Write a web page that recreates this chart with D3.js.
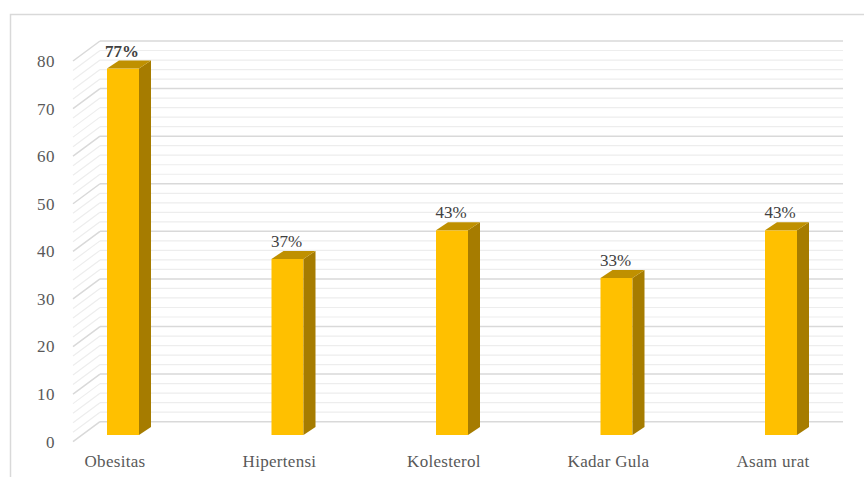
<!DOCTYPE html>
<html>
<head>
<meta charset="utf-8">
<script src="https://cdn.jsdelivr.net/npm/d3@7"></script>
<style>
  body { margin: 0; background: #fff; }
</style>
</head>
<body>
<script>
// data
var categories = ["Obesitas", "Hipertensi", "Kolesterol", "Kadar Gula", "Asam urat"];
var values = [77, 37, 43, 33, 43];
var valueLabels = ["77%", "37%", "43%", "33%", "43%"];
var tickValues = [0, 10, 20, 30, 40, 50, 60, 70, 80];

var width = 864, height = 477;
var font = "'Liberation Serif', 'Times New Roman', 'DejaVu Serif', serif";
var svg = d3.select("body").append("svg").attr("width", width).attr("height", height)
  .attr("font-family", font);

// outer border
svg.append("rect").attr("x", 10.5).attr("y", 14.5).attr("width", 900).attr("height", 500)
  .attr("fill", "#fff").attr("stroke", "#d9d9d9").attr("stroke-width", 1.5);

// back wall scale
var yBack = d3.scaleLinear().domain([0, 80]).range([421.7, 41]);
var depthX = 27, depthY = 20;   // front plane offset
var wallLeft = 100, wallRight = 843;

// gridlines every 2, major every 10
var grid = d3.range(0, 81, 2);
var g = svg.append("g");
g.selectAll("line.back").data(grid).enter().append("line")
  .attr("x1", wallLeft).attr("x2", wallRight)
  .attr("y1", function (d) { return yBack(d); })
  .attr("y2", function (d) { return yBack(d); })
  .attr("stroke", function (d) { return d % 10 === 0 ? "#d9d9d9" : "#ededed"; })
  .attr("stroke-width", function (d) { return d % 10 === 0 ? 1.5 : 1.2; });
g.selectAll("line.side").data(grid).enter().append("line")
  .attr("x1", wallLeft - depthX).attr("x2", wallLeft)
  .attr("y1", function (d) { return yBack(d) + depthY; })
  .attr("y2", function (d) { return yBack(d); })
  .attr("stroke", function (d) { return d % 10 === 0 ? "#d9d9d9" : "#ededed"; })
  .attr("stroke-width", function (d) { return d % 10 === 0 ? 1.5 : 1.2; });

// y axis labels on the front plane
svg.selectAll("text.ytick").data(tickValues).enter().append("text")
  .attr("x", 55).attr("y", function (d) { return yBack(d) + depthY; })
  .attr("dy", "0.35em").attr("text-anchor", "end")
  .attr("font-size", 17).attr("fill", "#595959").attr("letter-spacing", 0.5)
  .text(function (d) { return d; });

// bars
var x = d3.scalePoint().domain(categories).range([123, 781]);
var barW = 32, bdx = 12, bdy = 8, barOff = 13.3;
var yBar = function (v) { return yBack(v) + barOff; };

var bars = svg.selectAll("g.bar").data(values).enter().append("g");
bars.append("rect")
  .attr("x", function (d, i) { return x(categories[i]) - barW / 2; })
  .attr("y", function (d) { return yBar(d); })
  .attr("width", barW)
  .attr("height", function (d) { return yBar(0) - yBar(d); })
  .attr("fill", "#ffc000");
bars.append("path")
  .attr("d", function (d, i) {
    var x1 = x(categories[i]) + barW / 2, t = yBar(d), b = yBar(0);
    return "M" + x1 + "," + t + "L" + (x1 + bdx) + "," + (t - bdy) + "L" + (x1 + bdx) + "," + (b - bdy) + "L" + x1 + "," + b + "Z";
  })
  .attr("fill", "#a67c00");
bars.append("path")
  .attr("d", function (d, i) {
    var x0 = x(categories[i]) - barW / 2, t = yBar(d);
    return "M" + x0 + "," + t + "L" + (x0 + bdx) + "," + (t - bdy) + "L" + (x0 + barW + bdx) + "," + (t - bdy) + "L" + (x0 + barW) + "," + t + "Z";
  })
  .attr("fill", "#bf9000");

// value labels
svg.selectAll("text.val").data(values).enter().append("text")
  .attr("x", function (d, i) { return x(categories[i]) - 1; })
  .attr("y", function (d) { return yBar(d) - bdy - 4; })
  .attr("text-anchor", "middle").attr("font-size", 17).attr("fill", "#404040")
  .attr("font-weight", function (d, i) { return i === 0 ? "bold" : "normal"; })
  .text(function (d, i) { return valueLabels[i]; });

// category labels
svg.selectAll("text.cat").data(categories).enter().append("text")
  .attr("x", function (d) { return x(d) - 8; })
  .attr("y", 467)
  .attr("text-anchor", "middle").attr("font-size", 17).attr("fill", "#595959")
  .attr("letter-spacing", 0.3)
  .text(function (d) { return d; });
</script>
</body>
</html>
